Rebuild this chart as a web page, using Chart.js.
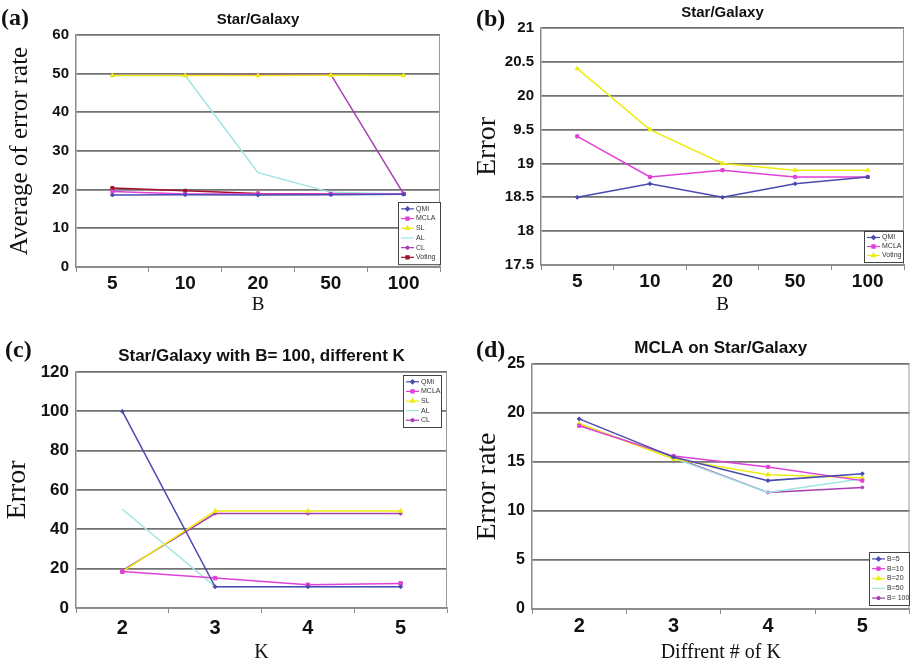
<!DOCTYPE html>
<html><head><meta charset="utf-8">
<script src="https://cdn.jsdelivr.net/npm/chart.js@4.4.1/dist/chart.umd.min.js"></script>
<style>
html,body{margin:0;padding:0;background:#fff;}
#wrap{position:relative;width:913px;height:665px;background:#fff;overflow:hidden;}
canvas{position:absolute;}
.pl{position:absolute;font:bold 24px "Liberation Serif","DejaVu Serif",serif;color:#111;line-height:24px;}
</style></head>
<body>
<div id="wrap">
<canvas id="ca" width="456" height="330" style="left:0;top:0"></canvas>
<canvas id="cb" width="457" height="330" style="left:456px;top:0"></canvas>
<canvas id="cc" width="456" height="335" style="left:0;top:330px"></canvas>
<canvas id="cd" width="457" height="335" style="left:456px;top:330px"></canvas>
<div class="pl" style="left:1px;top:5px">(a)</div>
<div class="pl" style="left:476px;top:6px">(b)</div>
<div class="pl" style="left:5px;top:337px">(c)</div>
<div class="pl" style="left:476px;top:337px">(d)</div>
</div>
<script>
// ---- data ----
const bCategories = ["5", "10", "20", "50", "100"];
const kCategories = ["2", "3", "4", "5"];

// (a) Star/Galaxy, average of error rate vs B
const aQMI    = [18.6, 18.7, 18.6, 18.7, 18.8];
const aMCLA   = [19.5, 18.9, 18.9, 18.9, 18.9];
const aSL     = [49.5, 49.5, 49.5, 49.6, 49.5];
const aAL     = [49.5, 49.5, 24.4, 19.3, 18.9];
const aCL     = [49.6, 49.6, 49.7, 49.8, 18.9];
const aVoting = [20.4, 19.7, 19.0, 18.9, 18.9];

// (b) Star/Galaxy, error vs B
const bQMI    = [18.5, 18.7, 18.5, 18.7, 18.8];
const bMCLA   = [19.4, 18.8, 18.9, 18.8, 18.8];
const bVoting = [20.4, 19.5, 19.0, 18.9, 18.9];
const bTickLabels = ["17.5", "18", "18.5", "19", "9.5", "20", "20.5", "21"];

// (c) Star/Galaxy with B=100, different K
const cQMI  = [100, 10.8, 10.8, 10.8];
const cMCLA = [18.5, 15.2, 11.8, 12.5];
const cSL   = [18.5, 49.3, 49.3, 49.3];
const cAL   = [50.2, 10.8, 10.8, 10.8];
const cCL   = [19.0, 48.0, 48.0, 48.0];

// (d) MCLA on Star/Galaxy, error rate vs K
const dB5   = [19.4, 15.5, 13.1, 13.8];
const dB10  = [18.7, 15.6, 14.5, 13.1];
const dB20  = [18.9, 15.3, 13.7, 13.4];
const dB50  = [18.9, 15.4, 11.9, 13.3];
const dB100 = [18.8, 15.5, 11.9, 12.4];

// ---- styles ----
const COL = {
  blue: "#4a4ab0", magenta: "#e040d8", yellow: "#ecec10",
  cyan: "#9ee6e2", purple: "#a83cb4", darkred: "#a0102c"
};
const SANS = "'Liberation Sans',Arial,sans-serif";
const SERIF = "'Liberation Serif','DejaVu Serif',serif";

function ds(label, data, color, pointStyle, r) {
  return {label, data, borderColor: color, backgroundColor: color,
    pointBackgroundColor: color, pointBorderColor: color,
    borderWidth: 1.5, pointStyle, pointRadius: r, pointHoverRadius: r,
    pointBorderWidth: 1, tension: 0};
}

const boxPlugin = {
  id: 'boxLegend',
  beforeDatasetsDraw(chart) {
    const a = chart.chartArea, ctx = chart.ctx;
    ctx.save();
    ctx.strokeStyle = '#9a9a9a';
    ctx.lineWidth = 1;
    ctx.beginPath();
    ctx.moveTo(a.right - 0.5, a.top);
    ctx.lineTo(a.right - 0.5, a.bottom);
    ctx.stroke();
    ctx.restore();
  },
  afterDraw(chart, args, opts) {
    if (!opts || !opts.display) return;
    const ctx = chart.ctx;
    const n = chart.data.datasets.length;
    const x = opts.x, y = opts.y, w = opts.w, rh = opts.rowH;
    const h = n * rh + 4;
    ctx.save();
    ctx.fillStyle = '#fff';
    ctx.fillRect(x, y, w, h);
    ctx.strokeStyle = '#444';
    ctx.lineWidth = 1;
    ctx.strokeRect(x + 0.5, y + 0.5, w, h);
    ctx.font = "7px " + SANS;
    ctx.textBaseline = 'middle';
    chart.data.datasets.forEach((d, i) => {
      const cy = y + 2 + rh * i + rh / 2;
      ctx.strokeStyle = d.borderColor;
      ctx.lineWidth = 1.2;
      ctx.beginPath();
      ctx.moveTo(x + 3, cy);
      ctx.lineTo(x + 16, cy);
      ctx.stroke();
      ctx.fillStyle = d.borderColor;
      Chart.helpers.drawPoint(ctx, {pointStyle: d.pointStyle, radius: Math.min(d.pointRadius, 2.2), borderWidth: 1}, x + 9.5, cy);
      ctx.fillStyle = '#333';
      ctx.fillText(d.label, x + 18, cy);
    });
    ctx.restore();
  }
};

function make(id, o) {
  const el = document.getElementById(id);
  return new Chart(el, {
    type: 'line',
    data: {labels: o.labels, datasets: o.datasets},
    plugins: [boxPlugin],
    options: {
      responsive: false, animation: false, devicePixelRatio: 1,
      layout: {padding: {left: 0, top: 0, right: o.padRight, bottom: 0}},
      plugins: {
        legend: {display: false},
        tooltip: {enabled: false},
        title: {display: true, text: o.title, fullSize: false, color: '#111',
          font: {family: SANS, size: o.titleSize, weight: 'bold', lineHeight: 1.2},
          padding: {top: o.titlePadTop, bottom: o.titlePadBottom}},
        boxLegend: o.legend
      },
      scales: {
        x: {
          offset: true,
          afterFit: s => { s.height = o.xHeight; },
          grid: {display: true, drawOnChartArea: false, drawTicks: true, tickLength: 5, offset: true, color: '#8a8a8a', lineWidth: 1},
          border: {display: true, color: '#8a8a8a', width: 1.5},
          ticks: {color: '#111', font: {family: SANS, size: o.xTickSize, weight: 'bold'}, padding: o.xTickPad, maxRotation: 0},
          title: {display: true, text: o.xTitle, color: '#111', font: {family: SERIF, size: o.xTitleSize, lineHeight: 1.2}, padding: {top: 0, bottom: o.xTitlePad}}
        },
        y: {
          min: o.yMin, max: o.yMax,
          afterFit: s => { s.width = o.yWidth; },
          grid: {display: true, drawTicks: false, color: '#727272', lineWidth: 1.7},
          border: {display: true, color: '#8a8a8a', width: 1.5},
          ticks: {stepSize: o.yStep, color: '#111', padding: 7,
            font: {family: SANS, size: o.yTickSize, weight: 'bold'},
            callback: o.yCallback || (v => v)},
          title: {display: true, text: o.yTitle, color: '#111', font: {family: SERIF, size: o.yTitleSize, lineHeight: 1.2}, padding: {top: o.yTitlePad, bottom: 0}}
        }
      }
    }
  });
}

make('ca', {
  labels: bCategories,
  datasets: [
    ds('QMI', aQMI, COL.blue, 'rectRot', 2),
    ds('MCLA', aMCLA, COL.magenta, 'rect', 2.2),
    ds('SL', aSL, COL.yellow, 'triangle', 2.5),
    ds('AL', aAL, COL.cyan, 'crossRot', 0),
    ds('CL', aCL, COL.purple, 'star', 2),
    ds('Voting', aVoting, COL.darkred, 'rect', 2.2)
  ],
  title: 'Star/Galaxy', titleSize: 15, titlePadTop: 11, titlePadBottom: 6,
  padRight: 16, yWidth: 76, xHeight: 63,
  yMin: 0, yMax: 60, yStep: 10, yTickSize: 15, xTickSize: 19, xTickPad: 0,
  yTitle: 'Average of error rate', yTitleSize: 25, yTitlePad: 5,
  xTitle: 'B', xTitleSize: 19, xTitlePad: 14,
  legend: {display: true, x: 398, y: 202, w: 42, rowH: 9.7}
});

make('cb', {
  labels: bCategories,
  datasets: [
    ds('QMI', bQMI, COL.blue, 'rectRot', 2),
    ds('MCLA', bMCLA, COL.magenta, 'rect', 2.2),
    ds('Voting', bVoting, COL.yellow, 'triangle', 2.5)
  ],
  title: 'Star/Galaxy', titleSize: 15, titlePadTop: 4, titlePadBottom: 6,
  padRight: 9, yWidth: 85, xHeight: 65,
  yMin: 17.5, yMax: 21, yStep: 0.5, yTickSize: 15, xTickSize: 19, xTickPad: 0,
  yCallback: (v, i) => bTickLabels[i],
  yTitle: 'Error', yTitleSize: 28, yTitlePad: 15,
  xTitle: 'B', xTitleSize: 19, xTitlePad: 14,
  legend: {display: true, x: 408, y: 231, w: 39, rowH: 9}
});

make('cc', {
  labels: kCategories,
  datasets: [
    ds('QMI', cQMI, COL.blue, 'rectRot', 2),
    ds('MCLA', cMCLA, COL.magenta, 'rect', 2.5),
    ds('SL', cSL, COL.yellow, 'triangle', 2.5),
    ds('AL', cAL, COL.cyan, 'crossRot', 0),
    ds('CL', cCL, COL.purple, 'star', 2)
  ],
  title: 'Star/Galaxy with B= 100, different K', titleSize: 17, titlePadTop: 16, titlePadBottom: 5.6,
  padRight: 9, yWidth: 76, xHeight: 57,
  yMin: 0, yMax: 120, yStep: 20, yTickSize: 17, xTickSize: 20, xTickPad: 3,
  yTitle: 'Error', yTitleSize: 28, yTitlePad: 1,
  xTitle: 'K', xTitleSize: 20, xTitlePad: 0,
  legend: {display: true, x: 403, y: 45, w: 38, rowH: 9.6}
});

make('cd', {
  labels: kCategories,
  datasets: [
    ds('B=5', dB5, COL.blue, 'rectRot', 2),
    ds('B=10', dB10, COL.magenta, 'rect', 2.2),
    ds('B=20', dB20, COL.yellow, 'triangle', 2.5),
    ds('B=50', dB50, COL.cyan, 'crossRot', 0),
    ds('B= 100', dB100, COL.purple, 'star', 2)
  ],
  title: 'MCLA on Star/Galaxy', titleSize: 17, titlePadTop: 8, titlePadBottom: 5.6,
  padRight: 0, yWidth: 76, xHeight: 56,
  yMin: 0, yMax: 25, yStep: 5, yTickSize: 16, xTickSize: 20, xTickPad: 0,
  yTitle: 'Error rate', yTitleSize: 28, yTitlePad: 15,
  xTitle: 'Diffrent # of K', xTitleSize: 20, xTitlePad: 0,
  legend: {display: true, x: 413, y: 222, w: 40, rowH: 9.8}
});
</script>
</body></html>
